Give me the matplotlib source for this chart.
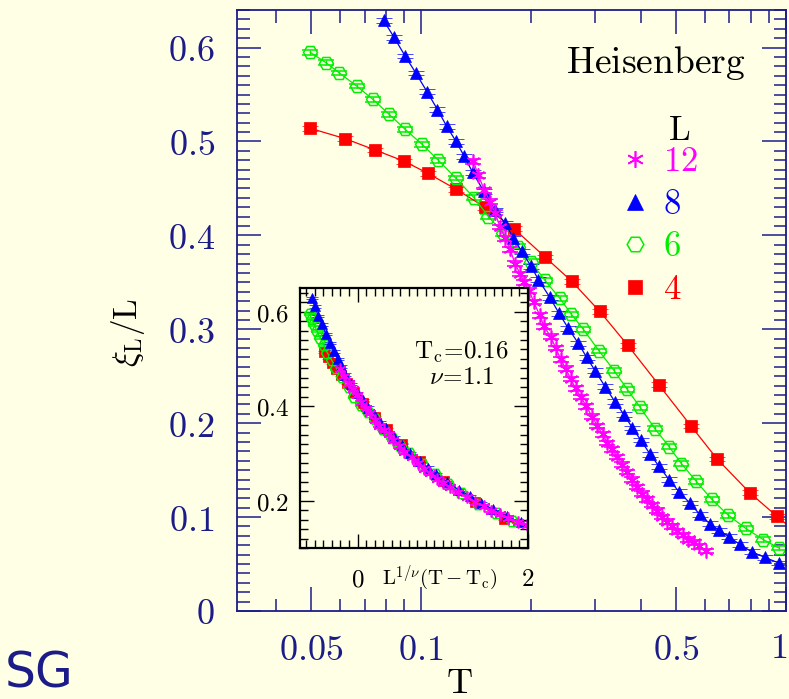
import numpy as np
import matplotlib
matplotlib.use("Agg")
import matplotlib.pyplot as plt
from matplotlib.lines import Line2D
from matplotlib.ticker import FixedLocator, MultipleLocator, FuncFormatter, NullFormatter

plt.rcParams["mathtext.fontset"] = "cm"
plt.rcParams["font.family"] = ["DejaVu Sans"]

# xi_L / L versus T for the four system sizes
t4 = [0.0497, 0.0619, 0.0747, 0.0898, 0.1045, 0.1249, 0.1497, 0.1798, 0.2186,
      0.2588, 0.3088, 0.3684, 0.4479, 0.5493, 0.6471, 0.7953, 0.9430, 1.13]
xi4 = [0.514, 0.503, 0.491, 0.479, 0.466, 0.449, 0.430, 0.407, 0.377,
       0.351, 0.319, 0.283, 0.241, 0.197, 0.162, 0.126, 0.101, 0.076]

t6 = [0.0497, 0.0548, 0.0597, 0.0666, 0.0737, 0.0817, 0.0904, 0.1006, 0.1115,
      0.1245, 0.1397, 0.1529, 0.1681, 0.1840, 0.1998, 0.2186, 0.2399, 0.2581,
      0.2783, 0.3074, 0.3379, 0.3674, 0.3981, 0.4376, 0.4781, 0.5166, 0.5677,
      0.6257, 0.6948, 0.7754, 0.8666, 0.9568]
xi6 = [0.595, 0.584, 0.573, 0.559, 0.545, 0.529, 0.513, 0.497, 0.480,
       0.461, 0.440, 0.420, 0.402, 0.388, 0.372, 0.352, 0.333, 0.316,
       0.300, 0.277, 0.256, 0.236, 0.217, 0.194, 0.175, 0.157, 0.138,
       0.119, 0.102, 0.088, 0.076, 0.067]

t8 = [0.0789, 0.0843, 0.0904, 0.0967, 0.1038, 0.1109, 0.1176, 0.1247, 0.1314,
      0.1385, 0.1485, 0.1595, 0.1699, 0.1790, 0.1887, 0.2002, 0.2096, 0.2253,
      0.2388, 0.2532, 0.2698, 0.2844, 0.2997, 0.3192, 0.3396, 0.3599, 0.3793,
      0.3999, 0.4241, 0.4489, 0.4781, 0.5090, 0.5446, 0.5800, 0.6180, 0.6553,
      0.6980, 0.7466, 0.8055, 0.8761, 0.9568]
xi8 = [0.629, 0.611, 0.591, 0.573, 0.553, 0.534, 0.516, 0.500, 0.484,
       0.467, 0.447, 0.427, 0.413, 0.397, 0.383, 0.367, 0.353, 0.334,
       0.317, 0.301, 0.285, 0.270, 0.256, 0.239, 0.223, 0.209, 0.195,
       0.182, 0.167, 0.154, 0.140, 0.127, 0.115, 0.103, 0.093, 0.086,
       0.079, 0.071, 0.063, 0.057, 0.051]

t12 = [0.1391, 0.1435, 0.1491, 0.1545, 0.1595, 0.1646, 0.1699, 0.1753, 0.1809,
       0.1867, 0.1920, 0.1980, 0.2035, 0.2114, 0.2173, 0.2266, 0.2339, 0.2414,
       0.2491, 0.2571, 0.2653, 0.2738, 0.2837, 0.2941, 0.3041, 0.3147, 0.3239,
       0.3343, 0.3450, 0.3561, 0.3674, 0.3793, 0.3915, 0.4041, 0.4169, 0.4303,
       0.4441, 0.4584, 0.4731, 0.4882, 0.5039, 0.5223, 0.5399, 0.5598, 0.5776,
       0.6026]
xi12 = [0.479, 0.464, 0.448, 0.436, 0.424, 0.409, 0.397, 0.385, 0.370,
        0.359, 0.350, 0.341, 0.329, 0.315, 0.303, 0.292, 0.280, 0.268,
        0.258, 0.247, 0.237, 0.228, 0.218, 0.207, 0.197, 0.188, 0.179,
        0.172, 0.164, 0.156, 0.148, 0.140, 0.132, 0.125, 0.119, 0.113,
        0.107, 0.100, 0.095, 0.090, 0.085, 0.081, 0.076, 0.073, 0.069,
        0.064]

sizes = [12, 8, 6, 4]
temps = {12: t12, 8: t8, 6: t6, 4: t4}
ratios = {12: xi12, 8: xi8, 6: xi6, 4: xi4}
err = 0.0025

# scaling parameters used for the collapse
Tc = 0.16
nu = 1.1

bg = "#ffffe6"
navy = "#1c1c88"
styles = {
    12: dict(color="#ff00ff", marker=(6, 2, 0), mfc="#ff00ff", mew=1.2),
    8: dict(color="#0000ff", marker="^", mfc="#0000ff", mew=0.5),
    6: dict(color="#00ee00", marker="H", mfc="none", mew=1.1),
    4: dict(color="#ff0000", marker="s", mfc="#ff0000", mew=0.5),
}
msize = {12: 10, 8: 9, 6: 10, 4: 8}


def draw_series(axis, L, x, y, scale=1.0, cap=6):
    st = styles[L]
    axis.errorbar(x, y, yerr=err, color=st["color"], marker=st["marker"],
                  mfc=st["mfc"], mec=st["color"], mew=st["mew"],
                  ms=msize[L] * scale, lw=0.9, elinewidth=0.9,
                  capsize=cap, capthick=0.9)


def tick_text(v, pos):
    # the label at T = 1 is drawn separately, nudged inside the figure
    if abs(v - 1.0) < 1e-9:
        return ""
    return "$%g$" % v


fig = plt.figure(figsize=(7.89, 6.99), dpi=100, facecolor=bg)
ax = fig.add_axes([237 / 789, 1 - 611 / 699, 549 / 789, 601 / 699], facecolor=bg)

for L in [4, 6, 8, 12]:
    draw_series(ax, L, temps[L], ratios[L])

ax.set_xscale("log")
ax.set_xlim(0.0313, 1.0)
ax.set_ylim(0, 0.64)

ax.xaxis.set_major_locator(FixedLocator([0.05, 0.1, 0.5, 1.0]))
ax.xaxis.set_minor_locator(FixedLocator([0.04, 0.06, 0.07, 0.08, 0.09,
                                         0.2, 0.3, 0.4, 0.6, 0.7, 0.8, 0.9]))
ax.xaxis.set_major_formatter(FuncFormatter(tick_text))
ax.xaxis.set_minor_formatter(NullFormatter())
ax.yaxis.set_major_locator(MultipleLocator(0.1))
ax.yaxis.set_minor_locator(MultipleLocator(0.01))
ax.yaxis.set_major_formatter(FuncFormatter(lambda v, p: "$%g$" % round(v, 2)))

ax.tick_params(which="both", direction="in", top=True, right=True,
               color=navy, width=1.1, labelcolor=navy, labelsize=26)
ax.tick_params(which="major", length=17)
ax.tick_params(which="minor", length=9)
ax.tick_params(axis="x", pad=16)
ax.tick_params(axis="y", pad=16)
for sp in ax.spines.values():
    sp.set_color(navy)
    sp.set_linewidth(1.3)

ax.annotate("$1$", xy=(1.0, 0), xycoords=("data", "axes fraction"),
            xytext=(-5, -27), textcoords="offset points", fontsize=26,
            color=navy, ha="center", va="center", annotation_clip=False)

ax.text(0.762, 0.912, r"$\mathrm{Heisenberg}$", transform=ax.transAxes,
        fontsize=27, ha="center", va="center", color="black")
ax.text(0.805, 0.800, r"$\mathrm{L}$", transform=ax.transAxes,
        fontsize=25, ha="center", va="center", color="black")

handles = [Line2D([], [], ls="none", marker=styles[L]["marker"],
                  color=styles[L]["color"], mfc=styles[L]["mfc"],
                  mew=styles[L]["mew"], ms=msize[L] + 2) for L in sizes]
leg = ax.legend(handles, ["$%d$" % L for L in sizes], loc="upper left",
                bbox_to_anchor=(0.694, 0.777), frameon=False, fontsize=25,
                handlelength=1.0, handletextpad=0.3, labelspacing=0.25,
                borderpad=0, borderaxespad=0)
for txt, L in zip(leg.get_texts(), sizes):
    txt.set_color(styles[L]["color"])

fig.text(128 / 789, 1 - 332 / 699, r"$\xi_{\mathrm{L}}/\mathrm{L}$",
         rotation=90, fontsize=24, ha="center", va="center", color="black")
fig.text(459 / 789, 1 - 683 / 699, r"$\mathrm{T}$", fontsize=26,
         ha="center", va="center", color="black")
fig.text(5 / 789, 2 / 699, "SG", fontsize=35, ha="left", va="bottom",
         color=navy)

# inset: data collapse against L^(1/nu) (T - Tc)
ins = fig.add_axes([300 / 789, 1 - 548 / 699, 228 / 789, 260 / 699], facecolor=bg)
for L in [4, 6, 8, 12]:
    xs = L ** (1.0 / nu) * (np.array(temps[L]) - Tc)
    draw_series(ins, L, xs, ratios[L], scale=0.85, cap=4)

ins.set_xlim(-0.675, 2.0)
ins.set_ylim(0.10, 0.65)
ins.xaxis.set_major_locator(MultipleLocator(2))
ins.xaxis.set_minor_locator(MultipleLocator(0.1))
ins.yaxis.set_major_locator(MultipleLocator(0.2))
ins.yaxis.set_minor_locator(MultipleLocator(0.02))
ins.xaxis.set_major_formatter(FuncFormatter(lambda v, p: "$%g$" % v))
ins.yaxis.set_major_formatter(FuncFormatter(lambda v, p: "$%g$" % round(v, 2)))
ins.tick_params(which="both", direction="in", top=True, right=True,
                color="black", width=1.0, labelsize=18)
ins.tick_params(which="major", length=10)
ins.tick_params(which="minor", length=6)
ins.tick_params(axis="x", pad=14)
ins.tick_params(axis="y", pad=8)
for sp in ins.spines.values():
    sp.set_linewidth(1.6)

ins.text(0.614, -0.115, r"$\mathrm{L}^{1/\nu}(\mathrm{T}-\mathrm{T_c})$",
         transform=ins.transAxes, fontsize=15, ha="center", va="center")
ins.text(0.71, 0.754, r"$\mathrm{T_c}\!=\!0.16$", transform=ins.transAxes,
         fontsize=18, ha="center", va="center")
ins.text(0.71, 0.658, r"$\nu\!=\!1.1$", transform=ins.transAxes,
         fontsize=18, ha="center", va="center")

fig.savefig("out.png", dpi=100, facecolor=bg)
